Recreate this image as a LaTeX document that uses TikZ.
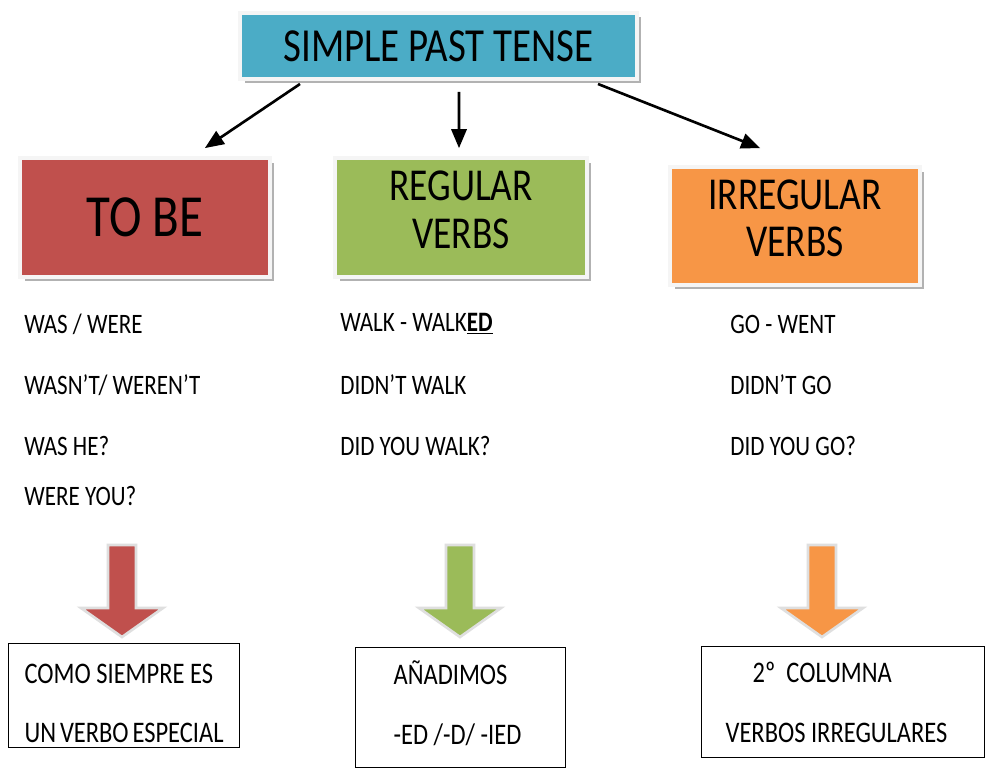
\documentclass[tikz,border=0pt]{standalone}
\usepackage{fontspec}
\setmainfont{Carlito}[FakeStretch=0.82]
\usepackage{tikz}
\usetikzlibrary{shapes.geometric, arrows, calc, shadows}
\definecolor{titleblue}{HTML}{4BACC6}
\definecolor{tobered}{HTML}{C0504D}
\definecolor{regulargreen}{HTML}{9BBB59}
\definecolor{irregularorange}{HTML}{F79646}

\begin{document}
\begin{tikzpicture}[x=0.02cm, y=-0.02cm]
		\tikzstyle{colourbox} = [rectangle, draw=gray!8, line width=0.08cm, align=center, drop shadow={shadow xshift=0.09cm, shadow yshift=-0.09cm, fill=gray!60, opacity=1}]
		
		\tikzstyle{entry} = [anchor=west, inner sep=0pt, font=\fontsize{16}{19}\selectfont]
		
		\tikzstyle{note} = [rectangle, draw=black, line width=0.7pt, anchor=north west, align=left, inner ysep=0pt, font=\fontsize{17}{34}\selectfont]
		
		\tikzstyle{arrow} = [->,>= triangle 45, line width=1.5pt]
		
		\tikzstyle{blockarrow} = [draw=gray!25, line width=1.5pt]
		
		\useasboundingbox [fill=white] (0,0) rectangle (987,776);
		
		% Begining of the figure
		\node (title) [colourbox, fill=titleblue, minimum width=7.94cm, minimum height=1.32cm, font=\fontsize{27}{27}\selectfont] at (438.5,46) {SIMPLE PAST TENSE};
		
		% Level 1 nodes
		\node (tobe) [colourbox, fill=tobered, minimum width=5cm, minimum height=2.38cm, font=\fontsize{34}{34}\selectfont] at (145,217.5) {TO BE};
		\node (regular) [colourbox, fill=regulargreen, minimum width=5.04cm, minimum height=2.38cm, font=\fontsize{26}{27}\selectfont] at (461,217.5) {REGULAR\\VERBS\rule[-9pt]{0pt}{0pt}};
		\node (irregular) [colourbox, fill=irregularorange, minimum width=5cm, minimum height=2.36cm, font=\fontsize{26}{27}\selectfont] at (795,226) {IRREGULAR\\VERBS\rule[-9pt]{0pt}{0pt}};
		
		% Arrows
		\draw [arrow] ($(title.south)+(-138.5,3)$) -- ($(tobe.north)+(60,-8)$);
		\draw [arrow] ($(title.south)+(20.5,11)$) -- ($(regular.north)+(-2,-8)$);
		\draw [arrow] ($(title.south)+(159.5,3)$) -- ($(irregular.north)+(-35,-17)$);
		
		% Forms
		\node (was) [entry] at (24,324) {WAS / WERE};
		\node (wasnt) [entry] at (24,385) {WASN'T/ WEREN'T};
		\node (washe) [entry] at (24,446) {WAS HE?};
		\node (wereyou) [entry] at (24,496) {WERE YOU?};
		
		\node (walk) [entry] at (340,324) {WALK - WALK\underline{\textbf{ED}}};
		\node (didntwalk) [entry] at (340,385) {DIDN'T WALK};
		\node (didyouwalk) [entry] at (340,446) {DID YOU WALK?};
		
		\node (go) [entry] at (730,324) {GO - WENT};
		\node (didntgo) [entry] at (730,385) {DIDN'T GO};
		\node (didyougo) [entry] at (730,446) {DID YOU GO?};
		
		% Block arrows
		\draw [blockarrow, fill=tobered] (108,545) -- ++(28,0) -- ++(0,63) -- ++(27,0) -- ++(-41,29) -- ++(-41,-29) -- ++(27,0) -- cycle;
		\draw [blockarrow, fill=regulargreen] (446,545) -- ++(28,0) -- ++(0,63) -- ++(27,0) -- ++(-41,29) -- ++(-41,-29) -- ++(27,0) -- cycle;
		\draw [blockarrow, fill=irregularorange] (808,545) -- ++(28,0) -- ++(0,63) -- ++(27,0) -- ++(-41,29) -- ++(-41,-29) -- ++(27,0) -- cycle;
		
		% Notes
		\node (note1) [note, minimum height=2.08cm, text width=3.98cm, inner xsep=0.32cm] at (8,643) {\spaceskip=0pt\rule{0pt}{20pt}COMO SIEMPRE ES\\UN VERBO ESPECIAL};
		\node (note2) [note, minimum height=2.4cm, text width=2.68cm, inner xsep=0.76cm] at (355,647) {\spaceskip=0pt AÑADIMOS\\-ED /-D/ -IED\rule[-6pt]{0pt}{0pt}};
		\node (note3) [note, minimum height=2.22cm, text width=4.7cm, inner xsep=0.48cm] at (701,646) {\spaceskip=0pt\hspace*{0.54cm}2º\ \ COLUMNA\\VERBOS IRREGULARES};
	\end{tikzpicture}
\end{document}
